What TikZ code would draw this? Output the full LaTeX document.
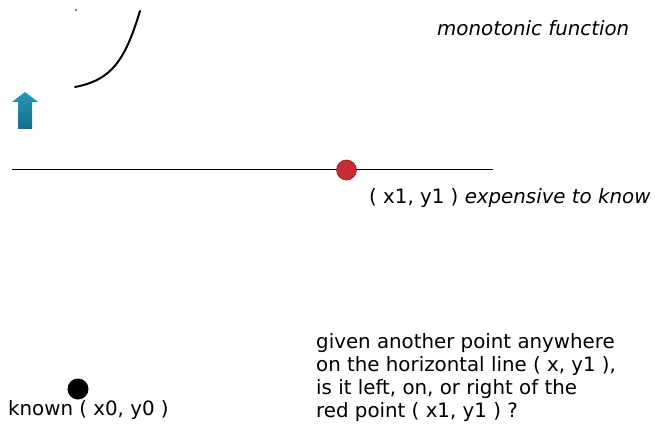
\documentclass[tikz,border=0pt]{standalone}
\usepackage{fontspec}
\setmainfont{DejaVu Sans}
\definecolor{redpt}{RGB}{198,44,50}
\definecolor{redptedge}{RGB}{150,30,35}
\definecolor{arrowtop}{RGB}{40,152,182}
\definecolor{arrowbot}{RGB}{22,108,138}
\tikzset{
  lbl/.style={inner sep=0pt, anchor=base west, font=\fontsize{19.8}{22.7}\selectfont},
  curveline/.style={line width=2pt, line cap=round},
}
\begin{document}
\begin{tikzpicture}[x=1pt,y=-1pt]
\useasboundingbox (0,0) rectangle (655,430);
% monotonic curve
\coordinate (c0) at (75,87);
\coordinate (c1) at (140,11);
\draw[curveline] (c0) .. controls (112,80) and (125,60) .. (c1);
\fill (76,10) circle (0.8);
% up arrow
\shade[top color=arrowtop, bottom color=arrowbot]
  (12,102) -- (25,92) -- (38,102) -- (32,102) -- (32,129) -- (18,129) -- (18,102) -- cycle;
% horizontal line
\coordinate (h0) at (12,170);
\coordinate (h1) at (493,170);
\draw[line width=1pt] (h0) -- (h1);
% red point
\node[circle, fill=redpt, draw=redptedge, line width=0.6pt, minimum size=20pt, inner sep=0pt] (red) at (346.5,170) {};
% black point
\node[circle, fill=black, minimum size=21pt, inner sep=0pt] (black) at (78,389) {};
% texts
\node[lbl] (mono) at (437,36) {\itshape monotonic function};
\node[lbl] (x1) at (369,204) {( x1, y1 ) \textit{expensive to know}};
\node[lbl] (known) at (8,415) {known ( x0, y0 )};
\node[lbl, align=left] (q) at (316,417) {given another point anywhere\\on the horizontal line ( x, y1 ),\\is it left, on, or right of the\\red point ( x1, y1 ) ?};
\end{tikzpicture}
\end{document}
